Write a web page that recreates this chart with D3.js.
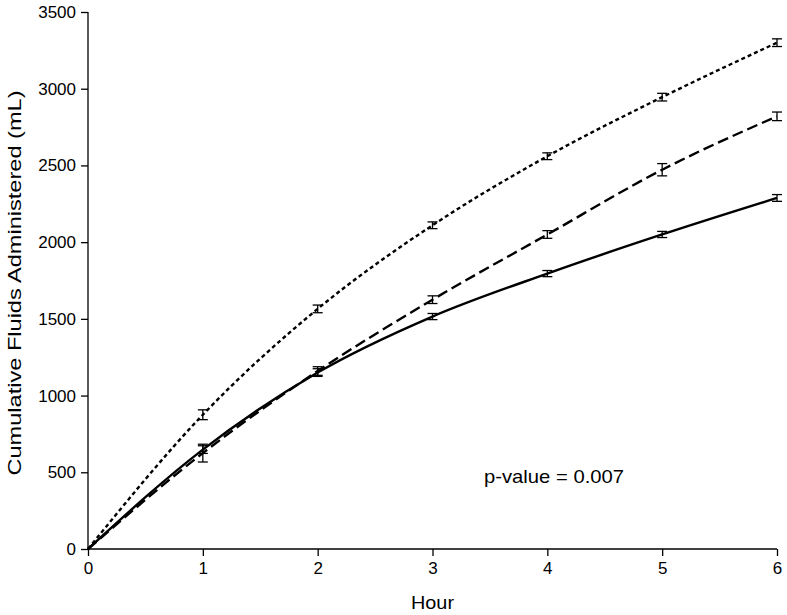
<!DOCTYPE html>
<html>
<head>
<meta charset="utf-8">
<script src="https://cdn.jsdelivr.net/npm/d3@7"></script>
<style>
  html, body { margin: 0; padding: 0; background: #fff; }
  svg text { font-family: "Liberation Sans", Arial, Helvetica, sans-serif; fill: #000; }
</style>
</head>
<body>
<svg id="chart" width="787" height="615"></svg>
<script>
const hours = [0, 1, 2, 3, 4, 5, 6];
const xTicks = [0, 1, 2, 3, 4, 5, 6];
const yTicks = [0, 500, 1000, 1500, 2000, 2500, 3000, 3500];

const dottedValues = [0, 875, 1565, 2110, 2560, 2945, 3300];
const dottedErrors = [0, 32, 25, 22, 22, 25, 25];

const dashedValues = [0, 625, 1160, 1625, 2050, 2472, 2820];
const dashedErrors = [0, 58, 28, 25, 25, 40, 28];

const solidValues = [0, 648, 1150, 1515, 1795, 2050, 2288];
const solidErrors = [0, 25, 25, 20, 20, 20, 22];

const yLabel = "Cumulative Fluids Administered (mL)";
const xLabel = "Hour";
const annotation = "p-value = 0.007";

(function () {
const svg = d3.select("#chart");
const mLeft = 88, mRight = 777, mTop = 12, mBottom = 549;

const x = d3.scaleLinear().domain([0, 6]).range([mLeft, mRight]);
const y = d3.scaleLinear().domain([0, 3500]).range([mBottom, mTop]);

const xAxis = d3.axisBottom(x).tickValues(xTicks).tickSize(7).tickPadding(6).tickFormat(d3.format("d"));
const yAxis = d3.axisLeft(y).tickValues(yTicks).tickSize(7).tickPadding(5).tickFormat(d3.format("d"));

const gx = svg.append("g").attr("transform", `translate(0,${mBottom})`).call(xAxis);
const gy = svg.append("g").attr("transform", `translate(${mLeft},0)`).call(yAxis);
[gx, gy].forEach(g => {
  g.select(".domain").attr("stroke", "#000").attr("stroke-width", 1.3);
  g.selectAll(".tick line").attr("stroke", "#000").attr("stroke-width", 1.3);
  g.selectAll(".tick text").attr("font-size", 17).attr("font-family", "Liberation Sans, Arial, sans-serif").attr("fill", "#000");
});
gx.select(".domain").attr("d", `M${mLeft},0H${mRight}`);
gy.select(".domain").attr("d", `M0,${mBottom}V${mTop}`);

svg.append("text")
  .attr("x", x(3)).attr("y", 609)
  .attr("text-anchor", "middle").attr("font-size", 19)
  .attr("textLength", 43).attr("lengthAdjust", "spacingAndGlyphs")
  .text(xLabel);
svg.append("text")
  .attr("transform", `translate(21,283) rotate(-90)`)
  .attr("text-anchor", "middle").attr("font-size", 19)
  .attr("textLength", 385).attr("lengthAdjust", "spacingAndGlyphs")
  .text(yLabel);

svg.append("text")
  .attr("x", 554).attr("y", 483)
  .attr("text-anchor", "middle").attr("font-size", 19)
  .attr("textLength", 140).attr("lengthAdjust", "spacingAndGlyphs")
  .text(annotation);

const series = [
  { values: dottedValues, errors: dottedErrors, dash: "4,3" },
  { values: dashedValues, errors: dashedErrors, dash: "11,5" },
  { values: solidValues, errors: solidErrors, dash: null }
];

const line = d3.line()
  .x(d => x(d.h))
  .y(d => y(d.v))
  .curve(d3.curveMonotoneX);

series.forEach(s => {
  const pts = hours.map((h, i) => ({ h, v: s.values[i], e: s.errors[i] }));
  const p = svg.append("path")
    .datum(pts)
    .attr("fill", "none")
    .attr("stroke", "#000")
    .attr("stroke-width", 2.4)
    .attr("d", line);
  if (s.dash) p.attr("stroke-dasharray", s.dash);

  const eb = svg.append("g");
  pts.filter(d => d.h > 0).forEach(d => {
    const cx = x(d.h);
    const y1 = y(d.v + d.e), y2 = y(d.v - d.e);
    eb.append("line").attr("x1", cx).attr("x2", cx).attr("y1", y1).attr("y2", y2)
      .attr("stroke", "#000").attr("stroke-width", 1.3);
    [y1, y2].forEach(yy => {
      eb.append("line").attr("x1", cx - 5).attr("x2", cx + 5).attr("y1", yy).attr("y2", yy)
        .attr("stroke", "#000").attr("stroke-width", 1.3);
    });
  });
});
})();
</script>
</body>
</html>
